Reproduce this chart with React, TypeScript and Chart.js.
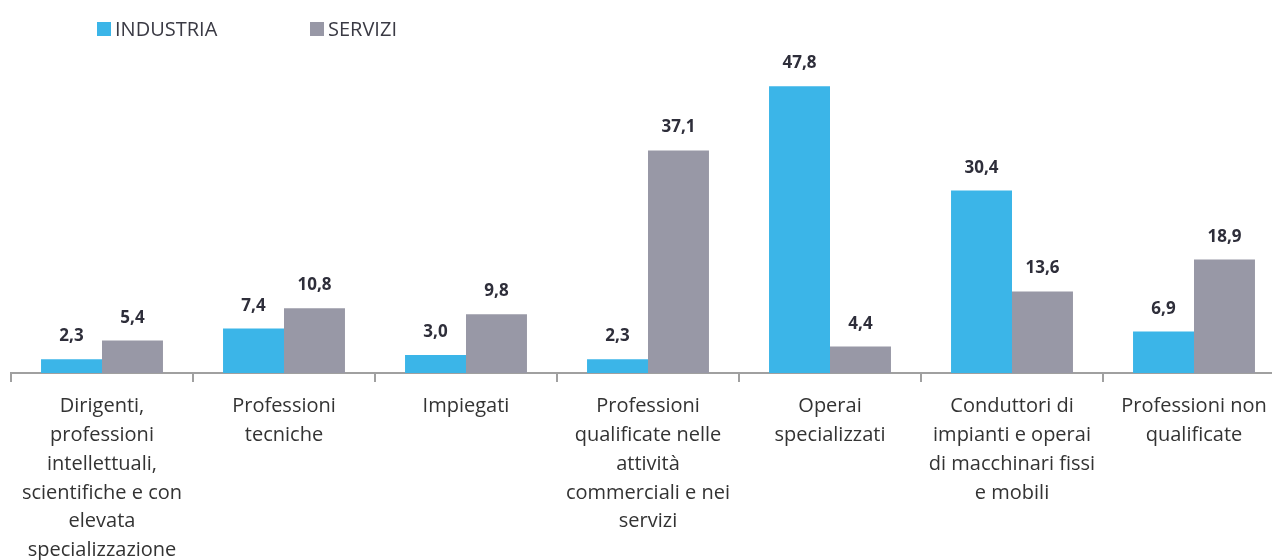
import React, { useEffect, useRef } from "react";
import { Chart, registerables } from "chart.js";

Chart.register(...registerables);

const categories: string[][] = [
  ["Dirigenti,", "professioni", "intellettuali,", "scientifiche e con", "elevata", "specializzazione"],
  ["Professioni", "tecniche"],
  ["Impiegati"],
  ["Professioni", "qualificate nelle", "attività", "commerciali e nei", "servizi"],
  ["Operai", "specializzati"],
  ["Conduttori di", "impianti e operai", "di macchinari fissi", "e mobili"],
  ["Professioni non", "qualificate"],
];
const seriesNames = ["INDUSTRIA", "SERVIZI"];
const industria = [2.3, 7.4, 3.0, 2.3, 47.8, 30.4, 6.9];
const servizi = [5.4, 10.8, 9.8, 37.1, 4.4, 13.6, 18.9];

const BLUE = "rgb(59,181,232)";
const GREY = "rgb(152,152,166)";
const FONT = "'Open Sans', Lato, sans-serif";

const valueLabels = {
  id: "valueLabels",
  afterDatasetsDraw(chart: any) {
    const ctx = chart.ctx;
    ctx.save();
    ctx.font = `bold 17px ${FONT}`;
    ctx.fillStyle = "#2e2e3a";
    ctx.textAlign = "center";
    ctx.textBaseline = "alphabetic";
    chart.data.datasets.forEach((ds: any, i: number) => {
      const meta = chart.getDatasetMeta(i);
      meta.data.forEach((bar: any, j: number) => {
        const v = ds.data[j] as number;
        ctx.fillText(v.toFixed(1).replace(".", ","), bar.x, bar.y - 18);
      });
    });
    ctx.restore();
  },
};

const customLegend = {
  id: "customLegend",
  afterDraw(chart: any) {
    const ctx = chart.ctx;
    const xs = [97, 310];
    ctx.save();
    ctx.font = `20px ${FONT}`;
    ctx.textBaseline = "alphabetic";
    ctx.textAlign = "left";
    chart.data.datasets.forEach((ds: any, i: number) => {
      ctx.fillStyle = ds.backgroundColor;
      ctx.fillRect(xs[i], 22, 14, 14);
      ctx.fillStyle = "#3a3a44";
      ctx.fillText(ds.label, xs[i] + 18, 36);
    });
    ctx.restore();
  },
};

export default function App() {
  const ref = useRef<HTMLCanvasElement | null>(null);
  useEffect(() => {
    document.body.style.margin = "0";
    document.body.style.overflow = "hidden";
    const chart = new Chart(ref.current!, {
      type: "bar",
      data: {
        labels: categories,
        datasets: [
          { label: seriesNames[0], data: industria, backgroundColor: BLUE },
          { label: seriesNames[1], data: servizi, backgroundColor: GREY },
        ],
      },
      options: {
        animation: false,
        responsive: false,
        maintainAspectRatio: false,
        layout: { padding: { top: 61, left: 11, right: 5, bottom: 0 } },
        datasets: { bar: { categoryPercentage: 0.67, barPercentage: 1.0 } },
        plugins: { legend: { display: false }, tooltip: { enabled: false } },
        scales: {
          y: { display: false, min: 0, max: 52 },
          x: {
            offset: true,
            grid: {
              offset: true,
              drawOnChartArea: false,
              drawTicks: true,
              tickLength: 9,
              color: "#a0a0a0",
              lineWidth: 2,
            },
            border: { display: true, color: "#a0a0a0", width: 2 },
            ticks: {
              maxRotation: 0,
              minRotation: 0,
              autoSkip: false,
              padding: 10,
              color: "#333333",
              font: { family: FONT, size: 20, lineHeight: 1.44 },
            },
            afterFit(scale: any) {
              scale.height = 187;
            },
          },
        },
      },
      plugins: [valueLabels, customLegend],
    });
    return () => chart.destroy();
  }, []);
  return (
    <div style={{ position: "absolute", left: 0, top: 0, width: 1272, height: 560, overflow: "hidden" }}>
      <canvas ref={ref} width={1290} height={560} style={{ width: 1290, height: 560 }} />
    </div>
  );
}
